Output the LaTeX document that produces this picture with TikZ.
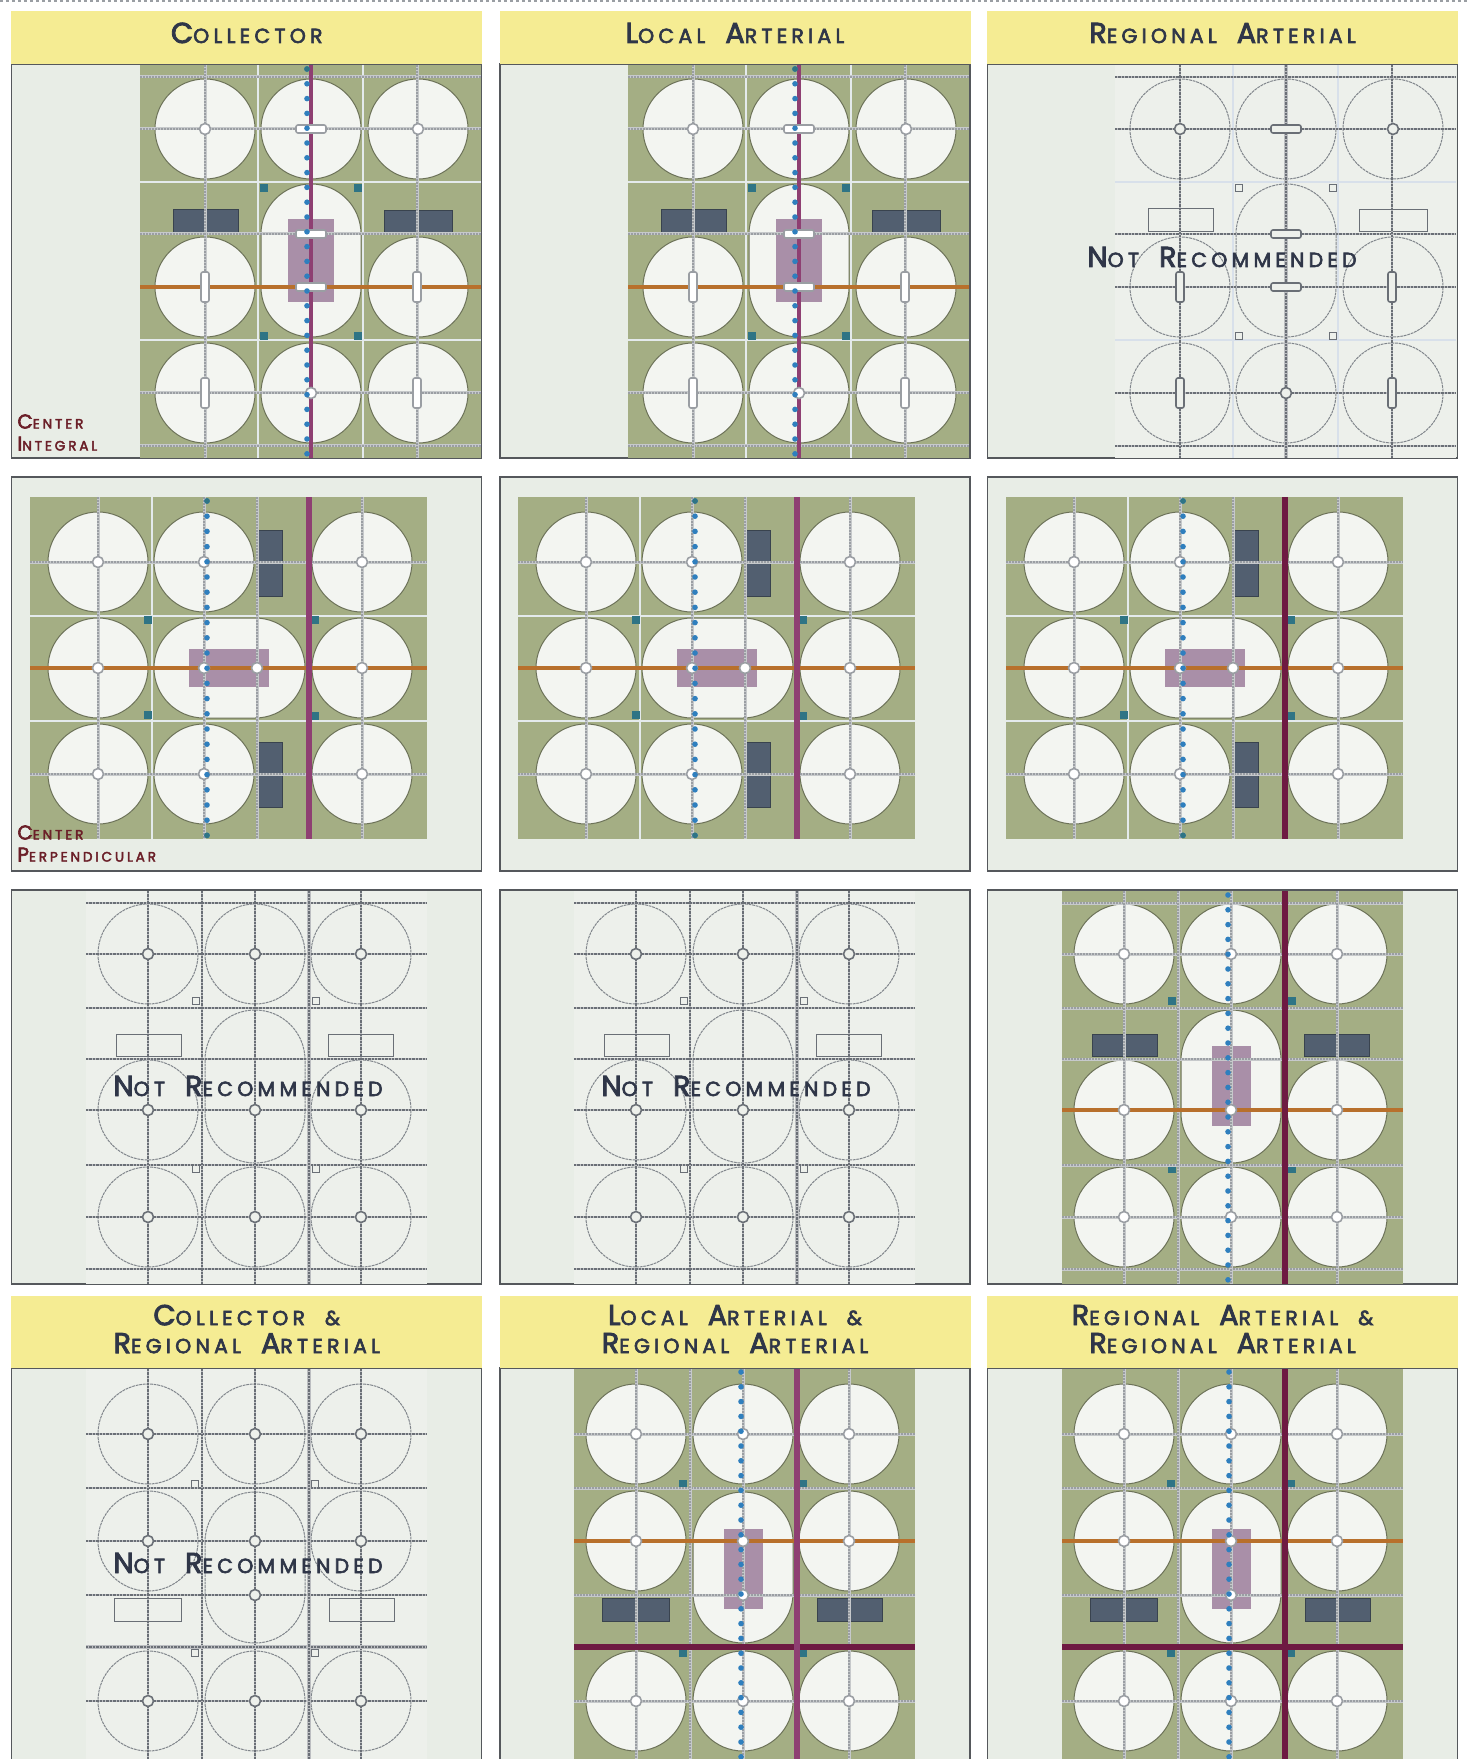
\documentclass[tikz,border=0pt]{standalone}
\usepackage{fontspec}
\newfontfamily\headfont[LetterSpace=21,FakeBold=3]{Poppins}
\usetikzlibrary{positioning}
\definecolor{cyellow}{HTML}{F5EC93}
\definecolor{cink}{HTML}{2F3648}
\definecolor{cmaroon}{HTML}{6B1F28}
\definecolor{cpaper}{HTML}{E8EDE6}
\definecolor{cclear}{HTML}{EDF0EB}
\definecolor{cgreen}{HTML}{A4AE84}
\definecolor{clot}{HTML}{F3F5F1}
\definecolor{cedge}{HTML}{6C7258}
\definecolor{croad}{HTML}{C6C9CB}
\definecolor{cspeck}{HTML}{9A9EA3}
\definecolor{cwroad}{HTML}{E4EAEC}
\definecolor{corange}{HTML}{B8702C}
\definecolor{cmag}{HTML}{8E3F72}
\definecolor{cwine}{HTML}{6E1A42}
\definecolor{cblue}{HTML}{2F7FBE}
\definecolor{cteal}{HTML}{2F7485}
\definecolor{cciv}{HTML}{A98FA8}
\definecolor{cbldg}{HTML}{525F70}
\definecolor{cframe}{HTML}{55585C}
\definecolor{cghost}{HTML}{6A6F76}
\definecolor{cpale}{HTML}{D8E0EA}
\newcommand{\capword}[2]{{\fontsize{14.4}{14}\selectfont #1}#2}
\newcommand{\gap}{\hspace{10pt}}
\tikzset{
  every picture/.style={x=0.5pt, y=-0.5pt},
  panel/.style={draw=cframe, fill=cpaper, line width=0.7pt, minimum width=235pt, inner sep=0pt},
  head/.style={fill=cyellow, text=cink, minimum width=235.5pt, inner sep=0pt, align=center,
    font=\headfont\fontsize{10.2}{14}\selectfont},
  warn/.style={text=cink, inner sep=0pt, anchor=base, font=\headfont\fontsize{10.2}{14}\selectfont},
  tag/.style={text=cmaroon, inner sep=0pt, anchor=south west, align=left,
    font=\headfont\fontsize{6.8}{11}\selectfont},
  ground/.style={fill=cgreen},
  lot/.style={fill=clot, draw=cedge, line width=0.5pt},
  rd/.style={draw=croad, line width=1.5pt, postaction={draw=cspeck, line width=0.6pt, dash pattern=on 1pt off 0.5pt}},
  wrd/.style={draw=cwroad, line width=1.2pt},
  org/.style={draw=corange, line width=2.1pt},
  mag/.style={draw=cmag, line width=3pt},
  wine/.style={draw=cwine, line width=3pt},
  civic/.style={fill=cciv},
  bldg/.style={fill=cbldg, draw=cbldg!70!black, line width=0.3pt},
  wsq/.style={fill=cteal, draw=cteal, line width=0.2pt},
  bdot/.style={fill=cblue},
  tdot/.style={fill=cteal},
  pad/.style={fill=white, draw=cspeck, line width=0.8pt},
  regional/.style={mag/.append style={draw=cwine}},
  ghost/.style={
    ground/.style={fill=cclear},
    lot/.style={draw=cghost!85, line width=0.5pt, dash pattern=on 1.4pt off 0.4pt},
    rd/.style={draw=cghost!45, line width=1.3pt, postaction={draw=cghost, line width=0.6pt, dash pattern=on 1.2pt off 0.5pt}},
    wrd/.style={draw=cpale, line width=1.2pt},
    org/.style={rd},
    mag/.style={rd, line width=2.4pt},
    wine/.style={rd, line width=2.4pt},
    civic/.style={fill=none},
    bldg/.style={draw=cghost, line width=0.5pt},
    wsq/.style={draw=cghost, line width=0.6pt},
    bdot/.style={fill=none},
    tdot/.style={fill=none},
    pad/.style={fill=cclear, draw=cghost, line width=0.8pt}},
  % center integral
  pics/integral/.style={code={
    \fill[ground] (140,65) rectangle (481,458);
    \foreach \x/\y in {205/129,311/129,418/129,205/287,418/287,205/393,311/393,418/393}
      \draw[lot] (\x,\y) circle[radius=50];
    \draw[lot, rounded corners=25pt] (261,184) rectangle (361,337);
    \foreach \y in {182,340} \draw[wrd] (140,\y) -- (481,\y);
    \foreach \x in {258,363} \draw[wrd] (\x,65) -- (\x,458);
    \fill[civic] (288,219) rectangle (334,302);
    \draw[bldg] (173,209) rectangle (238,232);
    \draw[bldg] (384,210) rectangle (452,232);
    \foreach \x/\y in {264/188,358/188,264/336,358/336}
      \draw[wsq] (\x-3.5,\y-3.5) rectangle (\x+3.5,\y+3.5);
    \foreach \y in {77,129,234,393,446} \draw[rd] (140,\y) -- (481,\y);
    \foreach \x in {205,417} \draw[rd] (\x,65) -- (\x,458);
    \draw[org] (140,287) -- (481,287);
    \draw[mag, line width=1.9pt] (311,65) -- (311,458);
    \foreach \x/\y in {311/129,311/234,311/287} \draw[pad, rounded corners=1pt] (\x-15,\y-4) rectangle (\x+15,\y+4);
    \foreach \x/\y in {205/287,417/287,205/393,417/393} \draw[pad, rounded corners=1pt] (\x-4,\y-15) rectangle (\x+4,\y+15);
    \foreach \x/\y in {205/129,418/129,311/393} \draw[pad] (\x,\y) circle[radius=5.5];
    \foreach \i in {0,...,26} \fill[bdot] (307,69+14.8*\i) circle[radius=2.8];
    \fill[tdot] (307,69) circle[radius=2.8];
  }},
  % center perpendicular
  pics/perpendicular/.style={code={
    \fill[ground] (30,497) rectangle (427,839);
    \foreach \x/\y in {98/562,204/562,362/562,98/668,362/668,98/774,204/774,362/774}
      \draw[lot] (\x,\y) circle[radius=50];
    \draw[lot, rounded corners=25pt] (154,618) rectangle (305,718);
    \foreach \y in {616,721} \draw[wrd] (30,\y) -- (427,\y);
    \draw[wrd] (152,497) -- (152,839);
    \fill[civic] (189,649) rectangle (269,687);
    \draw[bldg] (257,530) rectangle (282,596);
    \draw[bldg] (257,742) rectangle (282,807);
    \foreach \x/\y in {148/620,148/715,315/620,315/716}
      \draw[wsq] (\x-3.5,\y-3.5) rectangle (\x+3.5,\y+3.5);
    \foreach \y in {562,774} \draw[rd] (30,\y) -- (427,\y);
    \foreach \x in {98,204,257,362} \draw[rd] (\x,497) -- (\x,839);
    \draw[org] (30,668) -- (427,668);
    \draw[mag] (309,497) -- (309,839);
    \foreach \x/\y in {98/562,204/562,362/562,98/668,204/668,257/668,362/668,98/774,204/774,362/774}
      \draw[pad] (\x,\y) circle[radius=5.5];
    \foreach \i in {0,...,22} \fill[bdot] (207,501+15.2*\i) circle[radius=2.8];
    \fill[tdot] (207,501) circle[radius=2.8];
    \fill[tdot] (207,835.4) circle[radius=2.8];
  }},
  % end loop
  pics/endloop/.style={code={
    \fill[ground] (1062,891) rectangle (1403,1284);
    \foreach \x/\y in {1124/954,1231/954,1337/954,1124/1110,1337/1110,1124/1217,1231/1217,1337/1217}
      \draw[lot] (\x,\y) circle[radius=50];
    \draw[lot, rounded corners=25pt] (1181,1010) rectangle (1281,1163);
    \fill[civic] (1212,1046) rectangle (1251,1126);
    \draw[bldg] (1092,1034) rectangle (1157,1056);
    \draw[bldg] (1304,1034) rectangle (1369,1056);
    \foreach \x/\y in {1172/1001,1292/1001,1172/1169,1292/1169}
      \draw[wsq] (\x-3.5,\y-3.5) rectangle (\x+3.5,\y+3.5);
    \foreach \y in {903,954,1008,1059,1165,1217,1269} \draw[rd] (1062,\y) -- (1403,\y);
    \foreach \x in {1124,1178,1231,1337} \draw[rd] (\x,891) -- (\x,1284);
    \draw[org] (1062,1110) -- (1403,1110);
    \draw[mag] (1285,891) -- (1285,1284);
    \foreach \x/\y in {1124/954,1231/954,1337/954,1124/1110,1231/1110,1337/1110,1124/1217,1231/1217,1337/1217}
      \draw[pad] (\x,\y) circle[radius=5.5];
    \foreach \i in {0,...,26} \fill[bdot] (1228,895+14.8*\i) circle[radius=2.8];
  }},
  % double arterial
  pics/doubled/.style={code={
    \fill[ground] (574,1369) rectangle (915,1762);
    \foreach \x/\y in {636/1434,743/1434,849/1434,636/1541,849/1541,636/1701,743/1701,849/1701}
      \draw[lot] (\x,\y) circle[radius=50];
    \draw[lot, rounded corners=25pt] (693,1492) rectangle (793,1643);
    \fill[civic] (724,1529) rectangle (763,1609);
    \draw[bldg] (602,1598) rectangle (669,1621);
    \draw[bldg] (817,1598) rectangle (882,1621);
    \foreach \x/\y in {683/1484,803/1484,683/1653,803/1653}
      \draw[wsq] (\x-3.5,\y-3.5) rectangle (\x+3.5,\y+3.5);
    \foreach \y in {1434,1488,1595,1701} \draw[rd] (574,\y) -- (915,\y);
    \foreach \x in {636,690,743,849} \draw[rd] (\x,1369) -- (\x,1762);
    \draw[org] (574,1541) -- (915,1541);
    \draw[wine] (574,1647) -- (915,1647);
    \draw[mag] (797,1369) -- (797,1762);
    \foreach \x/\y in {636/1434,743/1434,849/1434,636/1541,743/1541,849/1541,743/1595,636/1701,743/1701,849/1701}
      \draw[pad] (\x,\y) circle[radius=5.5];
    \foreach \i in {0,...,26} \fill[bdot] (741,1372+14.8*\i) circle[radius=2.8];
  }},
}

\begin{document}
\begin{tikzpicture}
  \useasboundingbox (0,0) rectangle (1467,1759);
  \draw[cspeck, line width=0.6pt, dash pattern=on 1.5pt off 1.5pt] (0,1) -- (1467,1);
  % panels
  \foreach \c/\x in {1/246.75,2/735,3/1222.5} {
    \foreach \r/\y in {1/261,2/674,3/1087}
      \node[panel, minimum height=197pt] (p\r\c) at (\x,\y) {};
    \node[panel, minimum height=201pt] (p4\c) at (\x,1569) {};
  }
  % plans
  \pic (a1) at (0,0) {integral};
  \pic (a2) at (488,0) {integral};
  \pic[ghost] (a3) at (975,0) {integral};
  \pic (b1) at (0,0) {perpendicular};
  \pic (b2) at (488,0) {perpendicular};
  \pic[regional] (b3) at (976,0) {perpendicular};
  \pic[ghost] (c1) at (-976,0) {endloop};
  \pic[ghost] (c2) at (-488,0) {endloop};
  \pic[regional] (c3) at (0,0) {endloop};
  \pic[ghost] (d1) at (-488,0) {doubled};
  \pic (d2) at (0,0) {doubled};
  \pic[regional] (d3) at (488,0) {doubled};
  % headers
  \node[head, minimum height=26.5pt, text height=10pt, text depth=4.5pt] (h1) at (246.75,37.5) {\capword{C}{OLLECTOR}};
  \node[head, minimum height=26.5pt, text height=10pt, text depth=4.5pt] (h2) at (735,37.5) {\capword{L}{OCAL}\gap\capword{A}{RTERIAL}};
  \node[head, minimum height=26.5pt, text height=10pt, text depth=4.5pt] (h3) at (1222.5,37.5) {\capword{R}{EGIONAL}\gap\capword{A}{RTERIAL}};
  \node[head, minimum height=36pt, text depth=3pt] (h4) at (246.75,1332) {\capword{C}{OLLECTOR}\gap\&\\\capword{R}{EGIONAL}\gap\capword{A}{RTERIAL}};
  \node[head, minimum height=36pt, text depth=3pt] (h5) at (735,1332) {\capword{L}{OCAL}\gap\capword{A}{RTERIAL}\gap\&\\\capword{R}{EGIONAL}\gap\capword{A}{RTERIAL}};
  \node[head, minimum height=36pt, text depth=3pt] (h6) at (1222.5,1332) {\capword{R}{EGIONAL}\gap\capword{A}{RTERIAL}\gap\&\\\capword{R}{EGIONAL}\gap\capword{A}{RTERIAL}};
  % labels
  \node[warn] (nr1) at (1222,267) {\capword{N}{OT}\gap\capword{R}{ECOMMENDED}};
  \node[warn] (nr2) at (248,1096) {\capword{N}{OT}\gap\capword{R}{ECOMMENDED}};
  \node[warn] (nr3) at (736,1096) {\capword{N}{OT}\gap\capword{R}{ECOMMENDED}};
  \node[warn] (nr4) at (248,1573) {\capword{N}{OT}\gap\capword{R}{ECOMMENDED}};
  \node[tag] (t1) at (17,451) {{\fontsize{10}{11}\selectfont C}ENTER\\{\fontsize{10}{11}\selectfont I}NTEGRAL};
  \node[tag] (t2) at (17,862) {{\fontsize{10}{11}\selectfont C}ENTER\\{\fontsize{10}{11}\selectfont P}ERPENDICULAR};
\end{tikzpicture}
\end{document}
